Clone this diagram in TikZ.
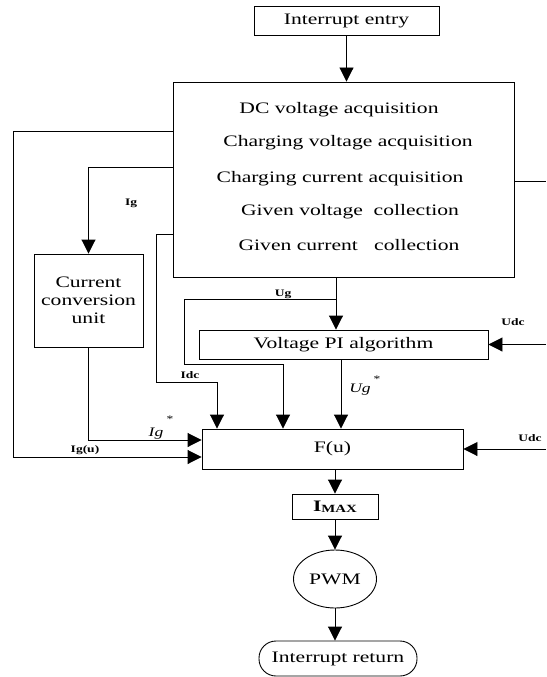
\documentclass[tikz,border=0pt]{standalone}
\usepackage{fontspec}
\setmainfont{Liberation Serif}[FakeStretch=1.35]
\usetikzlibrary{arrows.meta,shapes.geometric}
\tikzset{
  box/.style={draw,line width=0.9pt,inner sep=0pt,font=\fontsize{16}{18}\selectfont},
  txt/.style={inner sep=0pt,font=\fontsize{16}{18}\selectfont},
  lbl/.style={inner sep=0pt,font=\fontsize{10}{12}\selectfont\bfseries},
  sig/.style={inner sep=0pt,font=\fontsize{13}{15}\selectfont\itshape},
  star/.style={inner sep=0pt,font=\fontsize{10}{11}\selectfont},
  arr/.style={line width=0.9pt,-{Triangle[length=14pt,width=14pt]}},
  wire/.style={line width=0.9pt},
}
\begin{document}
\begin{tikzpicture}[x=1pt,y=-1pt]
\useasboundingbox (0,0) rectangle (546,677);

\node[box,minimum width=185,minimum height=29] (entry) at (346.5,20.5) {Interrupt entry};
\node[box,minimum width=341,minimum height=195] (main) at (343.5,179.5) {};
\node[txt] (acq1) at (339,110) {DC voltage acquisition};
\node[txt] (acq2) at (348,143) {Charging voltage acquisition};
\node[txt] (acq3) at (340,179) {Charging current acquisition};
\node[txt] (acq4) at (350,212) {Given voltage\ \ collection};
\node[txt] (acq5) at (349,245) {Given current\ \ \ collection};

\node[box,minimum width=109,minimum height=93,align=center] (conv) at (88.5,300.5) {Current\\conversion\\unit};
\node[box,minimum width=289,minimum height=29] (pi) at (343.5,344.5) {Voltage PI algorithm};
\node[box,minimum width=261,minimum height=40] (fu) at (332.5,449) {F(u)};
\node[box,minimum width=86,minimum height=25] (imax) at (335,506.5) {\textbf{I}\raisebox{-1pt}{\fontsize{11}{12}\selectfont\textbf{MAX}}};
\node[box,ellipse,minimum width=83,minimum height=58] (pwm) at (335,579) {PWM};
\node[box,rounded corners=17,minimum width=158,minimum height=35] (ret) at (338,658.5) {Interrupt return};

% free ends at the right border
\coordinate (rstub) at (546,181);
\coordinate (udc1) at (546,344.5);
\coordinate (udc2) at (546,449);
\coordinate (ugsplit) at (336,299);

\draw[arr] (entry.south) -- (entry.south |- main.north);
\draw[wire] (main.east |- rstub) -- (rstub);
\draw[arr] (main.west |- 0,131) -| (13,457) -- (fu.west |- 0,457);
\draw[arr] (main.west |- 0,167) -| (conv.north);
\draw[arr] (conv.south) |- (fu.west |- 0,440);
\draw[arr] (main.west |- 0,234) -| (156,382) -| (217,0 |- fu.north);
\draw[arr] (main.south -| ugsplit) -- (pi.north -| ugsplit);
\draw[arr] (ugsplit) -| (184,364) -| (283,0 |- fu.north);
\draw[arr] (pi.south -| 341,0) -- (fu.north -| 341,0);
\draw[arr] (udc1) -- (pi.east);
\draw[arr] (udc2) -- (fu.east);
\draw[arr] (fu.south -| imax.north) -- (imax.north);
\draw[arr] (imax.south) -- (pwm.north);
\draw[arr] (pwm.south) -- (ret.north -| pwm.south);

\node[lbl] (lIg) at (131,203) {Ig};
\node[lbl] (lIgu) at (85,450) {Ig(u)};
\node[lbl] (lIdc) at (190,375) {Idc};
\node[lbl] (lUg) at (283,294) {Ug};
\node[lbl] (lUdc1) at (513,322) {Udc};
\node[lbl] (lUdc2) at (530,438) {Udc};
\node[sig] (lIgs) at (156,434) {Ig};
\node[star] (sIgs) at (170,419) {*};
\node[sig] (lUgs) at (360,390) {Ug};
\node[star] (sUgs) at (377,379) {*};
\end{tikzpicture}
\end{document}
